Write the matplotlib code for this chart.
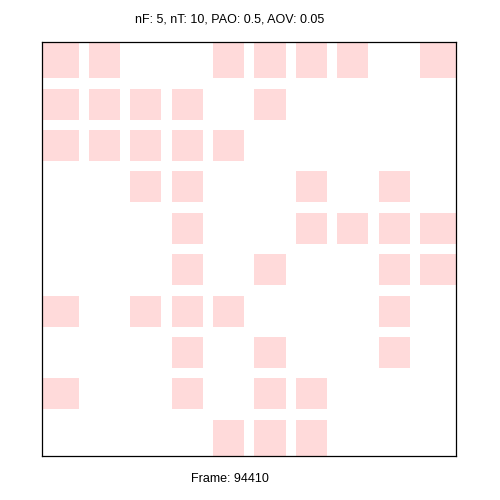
import matplotlib
matplotlib.use("Agg")
import matplotlib.pyplot as plt
from matplotlib.patches import Rectangle

title = "nF: 5, nT: 10, PAO: 0.5, AOV: 0.05"
footer = "Frame: 94410"
n = 10
# occupied columns (1-based) per row, top to bottom
row_cols = [
    [1, 2, 5, 6, 7, 8, 10],
    [1, 2, 3, 4, 6],
    [1, 2, 3, 4, 5],
    [3, 4, 7, 9],
    [4, 7, 8, 9, 10],
    [4, 6, 9, 10],
    [1, 3, 4, 5, 9],
    [4, 6, 9],
    [1, 4, 6, 7],
    [5, 6, 7],
]

fig = plt.figure(figsize=(5, 5), dpi=100)
ax = fig.add_axes([0.0846, 0.088, 0.828, 0.828])
ax.set_xlim(0, n)
ax.set_ylim(n, 0)
ax.set_xticks([])
ax.set_yticks([])
for s in ax.spines.values():
    s.set_linewidth(0.9)
    s.set_color("black")

color = "#FFDADA"
gap = 0.125
for r, cols in enumerate(row_cols):
    for c in cols:
        j = c - 1
        x0 = 0 if j == 0 else j + gap
        x1 = n if j == n - 1 else j + 1 - gap
        y0 = 0 if r == 0 else r + gap
        y1 = n if r == n - 1 else r + 1 - gap
        ax.add_patch(Rectangle((x0, y0), x1 - x0, y1 - y0, facecolor=color,
                               edgecolor="none", zorder=1))

fig.text(0.459, 0.961, title, ha="center", va="center", fontsize=9,
         family="Liberation Sans")
fig.text(0.459, 0.043, footer, ha="center", va="center", fontsize=9,
         family="Liberation Sans")
fig.savefig("out.png", dpi=100)
